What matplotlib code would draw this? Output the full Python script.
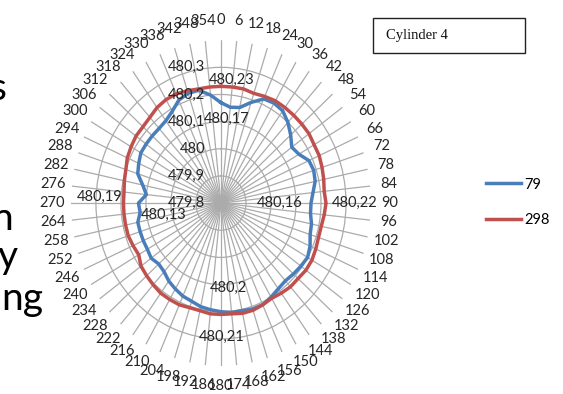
import numpy as np
import matplotlib.pyplot as plt
from matplotlib.patches import Rectangle
from matplotlib.transforms import offset_copy

# roundness readings around the cylinder, every 6 degrees
angles = list(range(0, 360, 6))
s79 = [480.17, 480.155, 480.16, 480.19, 480.22, 480.225, 480.22, 480.20, 480.175, 480.15,
       480.16, 480.185, 480.19, 480.185, 480.17, 480.16, 480.16, 480.17, 480.175, 480.19,
       480.20, 480.195, 480.19, 480.185, 480.19, 480.20, 480.21, 480.21, 480.205, 480.205,
       480.20, 480.195, 480.19, 480.18, 480.175, 480.165, 480.155, 480.14, 480.135, 480.145,
       480.14, 480.14, 480.14, 480.14, 480.125, 480.13, 480.10, 480.12, 480.15, 480.16,
       480.17, 480.17, 480.17, 480.17, 480.175, 480.19, 480.215, 480.225, 480.225, 480.20]
s298 = [480.23, 480.23, 480.23, 480.225, 480.23, 480.235, 480.235, 480.235, 480.235, 480.235,
        480.23, 480.23, 480.225, 480.22, 480.215, 480.22, 480.215, 480.21, 480.21, 480.215,
        480.22, 480.22, 480.215, 480.215, 480.21, 480.205, 480.21, 480.215, 480.215, 480.21,
        480.21, 480.21, 480.205, 480.205, 480.21, 480.21, 480.21, 480.205, 480.20, 480.195,
        480.18, 480.185, 480.19, 480.19, 480.19, 480.19, 480.19, 480.195, 480.20, 480.21,
        480.215, 480.22, 480.22, 480.225, 480.235, 480.24, 480.24, 480.235, 480.23, 480.23]
rticks = [479.8, 479.9, 480.0, 480.1, 480.2, 480.3]
rmin, rmax = 479.8, 480.4

# labelled points: (series, index, dx, dy) offsets in pixels
point_labels = [('79', 0, 6, -16), ('298', 0, 11, 6),
                ('79', 15, -31, 0), ('298', 15, 29, 0),
                ('79', 30, 7, 24), ('298', 30, 1, -22),
                ('79', 45, 25, -12), ('298', 45, -24, 6)]

blue = '#4a7ebb'
red = '#c0504d'
txt = '#262626'
fs = 10.5

plt.rcParams['font.family'] = ['Lato', 'DejaVu Sans']

def fmt(v):
    return ('%g' % v).replace('.', ',')

fig = plt.figure(figsize=(5.63, 3.94), dpi=100)
ax = fig.add_axes([0.126, 0.071, 0.533, 0.827], projection='polar')
ax.set_aspect('auto')
ax.set_theta_zero_location('N')
ax.set_theta_direction(-1)

theta = np.deg2rad(angles)
th = np.append(theta, theta[0])
series = {'79': s79, '298': s298}
ax.plot(th, s79 + s79[:1], color=blue, lw=2.5, label='79', zorder=3)
ax.plot(th, s298 + s298[:1], color=red, lw=2.5, label='298', zorder=3)

ax.set_ylim(rmin, rmax)
ax.set_yticks(rticks[1:])
ax.set_yticklabels([])
ax.set_xticks(theta)
ax.set_xticklabels([])
ax.grid(color='#ababab', lw=0.9)
ax.spines['polar'].set_visible(False)

# category labels round the outside
for a, t in zip(angles, theta):
    ax.text(t, 480.475, str(a), ha='center', va='center', fontsize=fs, color=txt)

# value axis labels to the left of the 0 spoke
tr = offset_copy(ax.transData, fig=fig, x=-16, y=0, units='dots')
for v in rticks:
    ax.text(0, v, fmt(v), transform=tr, ha='right', va='center', fontsize=fs, color=txt)

for name, i, dx, dy in point_labels:
    v = series[name][i]
    t = offset_copy(ax.transData, fig=fig, x=dx, y=dy, units='dots')
    ax.text(theta[i], v, fmt(v), transform=t, ha='center', va='center',
            fontsize=fs, color=txt, zorder=4)

fig.legend(loc='center left', bbox_to_anchor=(486 / 563, 0.486), frameon=False,
           handlelength=2.4, handletextpad=0.2, labelspacing=1.5, borderpad=0,
           borderaxespad=0, fontsize=fs)

# title box
fig.add_artist(Rectangle((373 / 563, 1 - 53 / 394), 152 / 563, 35 / 394,
                         transform=fig.transFigure, fill=False, ec='#222222', lw=1))
fig.text(386 / 563, 1 - 35 / 394, 'Cylinder 4', ha='left', va='center',
         fontsize=10.5, family='Liberation Serif', color='#111111')

# slide text running in from the left
for s, x, y in [('s', 7, 100), ('n', 13, 230), ('y', 18, 268), ('ng', 43, 310)]:
    fig.text(x / 563, 1 - y / 394, s, ha='right', va='baseline', fontsize=28, color='black')

fig.savefig('out.png', dpi=100)
